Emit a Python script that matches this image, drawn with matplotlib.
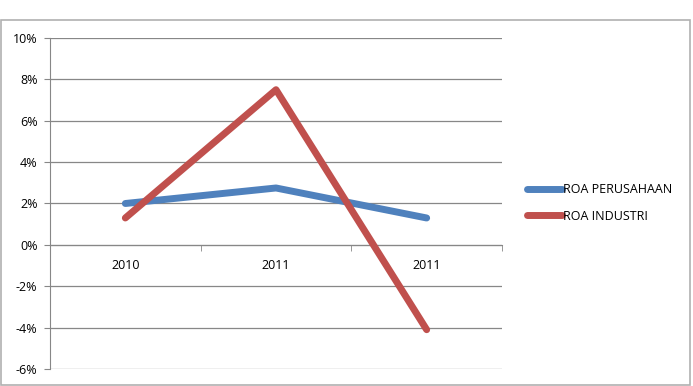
import numpy as np
import matplotlib.pyplot as plt
from matplotlib.patches import Rectangle
from matplotlib.ticker import FuncFormatter

plt.rcParams['font.family'] = ['Open Sans', 'DejaVu Sans']

years = ["2010", "2011", "2011"]
roa_perusahaan = [0.020, 0.0275, 0.013]
roa_industri = [0.013, 0.075, -0.041]

blue = "#4F81BD"
red = "#C0504D"
grid_c = "#878787"

fig = plt.figure(figsize=(6.93, 3.86), dpi=100)
W, H = 693, 386

# outer chart border
fig.patches.append(Rectangle((1 / W, 1 - 385 / H), 689 / W, 365 / H,
                             transform=fig.transFigure, fill=False,
                             edgecolor="#B0B0B0", linewidth=1.2))

ax = fig.add_axes([50 / W, 1 - 369 / H, 452 / W, 331 / H])
x = np.arange(len(years))
ax.plot(x, roa_perusahaan, color=blue, lw=5, solid_capstyle="round",
        label="ROA PERUSAHAAN", zorder=3)
ax.plot(x, roa_industri, color=red, lw=5, solid_capstyle="round",
        label="ROA INDUSTRI", zorder=3)

ax.set_xlim(-0.5, len(years) - 0.5)
ax.set_ylim(-0.06, 0.10)
ax.set_yticks(np.arange(-0.06, 0.101, 0.02))
ax.yaxis.set_major_formatter(FuncFormatter(lambda v, p: f"{round(v * 100):d}%"))
ax.grid(axis="y", color=grid_c, lw=0.9)
ax.set_axisbelow(True)

for s in ["top", "right"]:
    ax.spines[s].set_visible(False)
ax.spines["left"].set_color(grid_c)
ax.spines["bottom"].set_color(grid_c)
ax.spines["bottom"].set_position(("data", 0))

ax.set_xticks(x)
ax.set_xticklabels(years)
ax.set_xticks(np.arange(0.5, len(years), 1), minor=True)
ax.tick_params(axis="x", which="major", length=0, pad=10, labelsize=9)
ax.tick_params(axis="x", which="minor", length=4, color=grid_c, direction="out")
ax.tick_params(axis="y", length=4, color=grid_c, pad=5, labelsize=9)

fig.legend(loc="center left", bbox_to_anchor=(521 / W, 1 - 203 / H),
           frameon=False, fontsize=9, handlelength=2.8, handletextpad=0.05,
           labelspacing=1.05, borderpad=0)

fig.savefig("out.png", dpi=100)
